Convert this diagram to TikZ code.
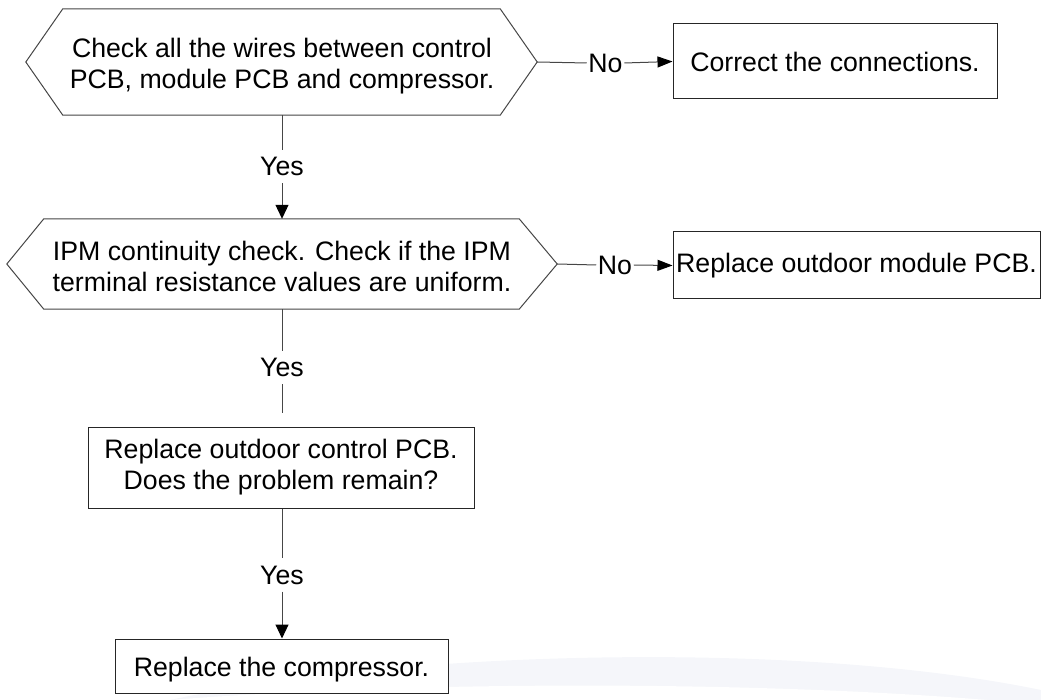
\documentclass[tikz,border=0pt]{standalone}
\usepackage{fontspec}
\setmainfont{Liberation Sans}
\usetikzlibrary{arrows.meta}
\definecolor{edge}{RGB}{70,70,70}
\definecolor{swoosh}{RGB}{245,246,250}
\tikzset{
  txt/.style={font=\fontsize{26.7}{31}\selectfont, align=center, inner sep=0pt},
  hexzone/.style={txt, minimum width=#1},
  hexline/.style={draw=edge, line width=1pt, fill=white, line join=miter},
  stepbox/.style={txt, draw=black!85, line width=1pt, fill=white},
  link/.style={draw=edge, line width=1pt},
  arrowlink/.style={link, -{Triangle[length=14pt,width=13pt,color=black]}},
  harrowlink/.style={link, -{Triangle[length=15pt,width=11pt,color=black]}},
  lbl/.style={txt, inner xsep=1.5pt},
  vlbl/.style={txt, minimum height=33pt},
}
\begin{document}
\begin{tikzpicture}[x=1pt,y=-1pt]
\useasboundingbox (0,0) rectangle (1041,700);

% faint background swoosh
\fill[swoosh] (170,700) .. controls (400,650) and (800,640) .. (1041,690)
  -- (1041,700) -- cycle;
\fill[white] (170,700) .. controls (420,680) and (800,680) .. (1041,705) -- (1041,700) -- cycle;

% decision 1
\node[hexzone=511pt, minimum height=106pt] (hex1) at (281.5,62) {};
\draw[hexline] (hex1.west) -- ([xshift=37pt]hex1.north west) -- ([xshift=-37pt]hex1.north east)
  -- (hex1.east) -- ([xshift=-37pt]hex1.south east) -- ([xshift=37pt]hex1.south west) -- cycle;
\node[txt] (hex1t) at (282,66) {Check all the wires between control\\PCB, module PCB and compressor.};

% decision 2
\node[hexzone=550pt, minimum height=90pt] (hex2) at (282,264) {};
\draw[hexline] (hex2.west) -- ([xshift=37pt]hex2.north west) -- ([xshift=-38pt]hex2.north east)
  -- (hex2.east) -- ([xshift=-38pt]hex2.south east) -- ([xshift=37pt]hex2.south west) -- cycle;
\node[txt] (hex2t) at (282,266) {IPM continuity check. Check if the IPM\\terminal resistance values are uniform.};

% action boxes
\node[stepbox, minimum width=324pt, minimum height=75pt] (box1) at (835,61.5) {Correct the connections.};
\node[stepbox, minimum width=367pt, minimum height=67pt] (box2) at (856.5,265.5) {Replace outdoor module PCB.};
\node[stepbox, minimum width=386pt, minimum height=81pt] (box3) at (281,467.5) {Replace outdoor control PCB.\\Does the problem remain?};
\node[stepbox, minimum width=333pt, minimum height=54pt] (box4) at (281.5,666) {\raisebox{-4pt}[\height][\depth]{Replace the compressor.}};

% labels
\node[lbl] (no1) at (605.5,63) {No};
\node[lbl] (no2) at (615,265) {No};
\node[vlbl] (yes1) at (282,166.5) {Yes};
\node[vlbl] (yes2) at (282,367.5) {Yes};
\node[vlbl] (yes3) at (282,575) {Yes};

% connectors
\draw[link] (hex1.east) -- (no1.west);
\draw[harrowlink] (no1.east) -- (box1.west);
\draw[link] (hex2.east) -- (no2.west);
\draw[harrowlink] (no2.east) -- (box2.west);

\draw[link] (hex1.south -| yes1) -- (yes1.north);
\draw[arrowlink] (yes1.south) -- (hex2.north -| yes1);
\draw[link] (hex2.south -| yes2) -- (yes2.north);
\draw[link, shorten >=14pt] (yes2.south) -- (box3.north -| yes2);
\draw[link] (box3.south -| yes3) -- (yes3.north);
\draw[arrowlink] (yes3.south) -- (box4.north -| yes3);
\end{tikzpicture}
\end{document}
